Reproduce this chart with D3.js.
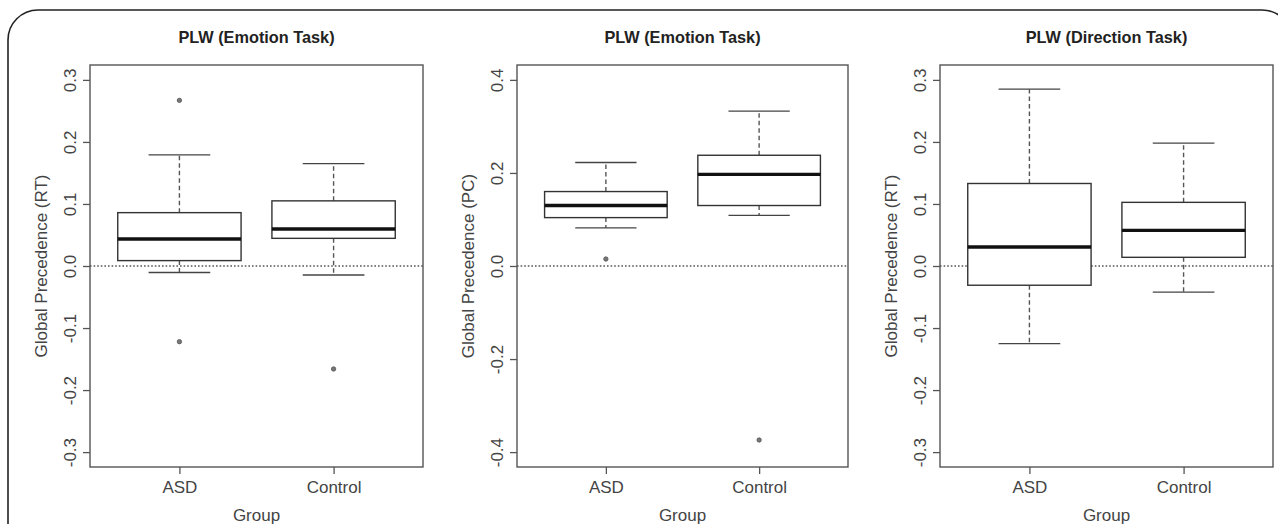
<!DOCTYPE html>
<html>
<head>
<meta charset="utf-8">
<script src="https://cdn.jsdelivr.net/npm/d3@7"></script>
<style>
  html, body { margin: 0; padding: 0; background: #fff; }
  svg { display: block; font-family: "Liberation Sans", Arial, Helvetica, sans-serif; }
</style>
</head>
<body>
<svg id="chart" width="1278" height="524"></svg>
<script>
// ---- Data ----
const groups = ["ASD", "Control"];
const panelTitles = ["PLW (Emotion Task)", "PLW (Emotion Task)", "PLW (Direction Task)"];
const yLabels = ["Global Precedence (RT)", "Global Precedence (PC)", "Global Precedence (RT)"];
const yDomains = [[-0.3, 0.3], [-0.4, 0.4], [-0.3, 0.3]];
const yTicks = [
  [-0.3, -0.2, -0.1, 0.0, 0.1, 0.2, 0.3],
  [-0.4, -0.2, 0.0, 0.2, 0.4],
  [-0.3, -0.2, -0.1, 0.0, 0.1, 0.2, 0.3]
];
// five-number summaries per group: [lowerWhisker, Q1, median, Q3, upperWhisker]
const panel1Stats = [[-0.0105, 0.0087, 0.0435, 0.086, 0.179], [-0.0145, 0.0446, 0.0596, 0.105, 0.165]];
const panel2Stats = [[0.082, 0.104, 0.130, 0.160, 0.2225], [0.109, 0.130, 0.197, 0.238, 0.333]];
const panel3Stats = [[-0.125, -0.031, 0.0306, 0.133, 0.285], [-0.042, 0.014, 0.0575, 0.1026, 0.198]];
const panel1Outliers = [[0.267, -0.122], [-0.166]];
const panel2Outliers = [[0.015], [-0.374]];
const panel3Outliers = [[], []];
const allStats = [panel1Stats, panel2Stats, panel3Stats];
const allOutliers = [panel1Outliers, panel2Outliers, panel3Outliers];
const xAxisLabel = "Group";

// ---- Layout ----
const svg = d3.select("#chart");
const panelBoxes = [
  { left: 90, right: 423 },
  { left: 517, right: 848 },
  { left: 940, right: 1273 }
];
const plotTop = 65, plotBottom = 467;
const ink = "#333";

// outer rounded frame
svg.append("path")
  .attr("d", "M8,530 L8,40 A30,30 0 0 1 38,10 L1262,10 A30,30 0 0 1 1292,40 L1292,530")
  .attr("fill", "none").attr("stroke", "#222").attr("stroke-width", 1.6);

panelBoxes.forEach((pb, i) => {
  const g = svg.append("g");
  // R-style 4% extension
  const d = yDomains[i];
  const ext = (d[1] - d[0]) * 0.04;
  const y = d3.scaleLinear().domain([d[0] - ext, d[1] + ext]).range([plotBottom, plotTop]);
  const x = d3.scaleLinear().domain([0.42, 2.58]).range([pb.left, pb.right]);
  const unit = x(1) - x(0);

  // zero reference line (dotted)
  g.append("line")
    .attr("x1", pb.left).attr("x2", pb.right)
    .attr("y1", y(0)).attr("y2", y(0))
    .attr("stroke", "#555").attr("stroke-width", 1.4)
    .attr("stroke-dasharray", "1.6,2");

  const stats = allStats[i];
  stats.forEach((s, j) => {
    const cx = x(j + 1);
    const bw = unit * 0.8, cw = unit * 0.4;
    const [lo, q1, med, q3, hi] = s;
    // whiskers
    g.append("line").attr("x1", cx).attr("x2", cx).attr("y1", y(q3)).attr("y2", y(hi))
      .attr("stroke", "#555").attr("stroke-width", 1.4).attr("stroke-dasharray", "4.5,3");
    g.append("line").attr("x1", cx).attr("x2", cx).attr("y1", y(q1)).attr("y2", y(lo))
      .attr("stroke", "#555").attr("stroke-width", 1.4).attr("stroke-dasharray", "4.5,3");
    // caps
    [lo, hi].forEach(v => {
      g.append("line").attr("x1", cx - cw / 2).attr("x2", cx + cw / 2)
        .attr("y1", y(v)).attr("y2", y(v))
        .attr("stroke", "#444").attr("stroke-width", 1.3);
    });
    // box
    g.append("rect")
      .attr("x", cx - bw / 2).attr("width", bw)
      .attr("y", y(q3)).attr("height", y(q1) - y(q3))
      .attr("fill", "#fff").attr("stroke", ink).attr("stroke-width", 1.4);
    // median
    g.append("line").attr("x1", cx - bw / 2).attr("x2", cx + bw / 2)
      .attr("y1", y(med)).attr("y2", y(med))
      .attr("stroke", "#111").attr("stroke-width", 3.4);
    // outliers
    allOutliers[i][j].forEach(v => {
      g.append("circle").attr("cx", cx).attr("cy", y(v)).attr("r", 2.2)
        .attr("fill", "#777").attr("stroke", "#555").attr("stroke-width", 0.8);
    });
  });

  // plot frame
  g.append("rect")
    .attr("x", pb.left).attr("y", plotTop)
    .attr("width", pb.right - pb.left).attr("height", plotBottom - plotTop)
    .attr("fill", "none").attr("stroke", "#555").attr("stroke-width", 1.4);

  // y axis
  const yAxis = d3.axisLeft(y).tickValues(yTicks[i]).tickSize(7).tickSizeOuter(0)
    .tickFormat(d3.format(".1f"));
  const ya = g.append("g").attr("transform", `translate(${pb.left},0)`).call(yAxis);
  ya.select(".domain").remove();
  ya.selectAll(".tick line").attr("stroke", "#555").attr("stroke-width", 1.3);
  ya.selectAll(".tick text")
    .attr("x", 0).attr("dy", null)
    .attr("transform", `translate(-14,0) rotate(-90)`)
    .attr("text-anchor", "middle")
    .attr("fill", "#444").attr("font-size", 17)
    .text(v => d3.format(".1f")(v).replace("−", "-"));

  // x axis
  const xAxis = d3.axisBottom(x).tickValues([1, 2]).tickSize(7).tickSizeOuter(0)
    .tickFormat((v) => groups[v - 1]);
  const xa = g.append("g").attr("transform", `translate(0,${plotBottom})`).call(xAxis);
  xa.select(".domain").remove();
  xa.selectAll(".tick line").attr("stroke", "#555").attr("stroke-width", 1.3);
  xa.selectAll(".tick text").attr("y", 26).attr("dy", null)
    .attr("fill", "#444").attr("font-size", 17);

  // titles
  const mid = (pb.left + pb.right) / 2;
  g.append("text").attr("x", mid).attr("y", 42.5).attr("text-anchor", "middle")
    .attr("font-weight", "bold").attr("font-size", 16.3).attr("fill", "#222")
    .text(panelTitles[i]);
  g.append("text").attr("x", mid).attr("y", 521).attr("text-anchor", "middle")
    .attr("font-size", 17).attr("fill", "#444").text(xAxisLabel);
  g.append("text")
    .attr("transform", `translate(${pb.left - 43.5},${(plotTop + plotBottom) / 2}) rotate(-90)`)
    .attr("text-anchor", "middle").attr("font-size", 17).attr("fill", "#444")
    .text(yLabels[i]);
});
</script>
</body>
</html>
